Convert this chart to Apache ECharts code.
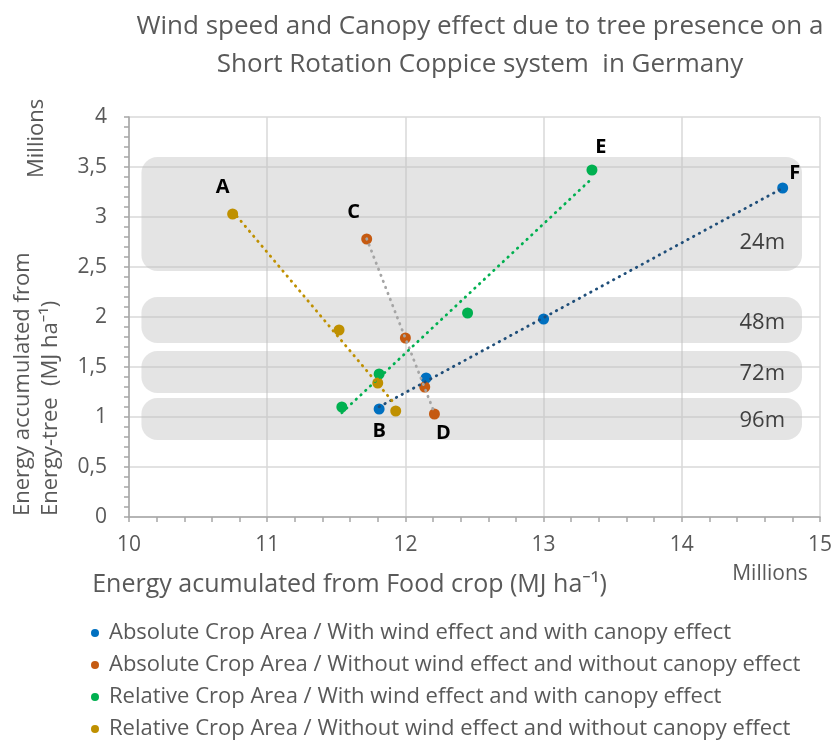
<!DOCTYPE html>
<html><head><meta charset="utf-8">
<script src="https://cdn.jsdelivr.net/npm/echarts@6/dist/echarts.min.js"></script>
<style>html,body{margin:0;padding:0;background:#fff}#c{width:835px;height:740px}</style>
</head><body><div id="c"></div>
<script>
// ---- data ----
const seriesNames = [
  'Absolute Crop Area / With wind effect and with canopy effect',
  'Absolute Crop Area / Without wind effect and without canopy effect',
  'Relative Crop Area / With wind effect and with canopy effect',
  'Relative Crop Area / Without wind effect and without canopy effect'
];
// x: energy from food crop (millions MJ/ha), y: energy from energy-tree (millions MJ/ha)
// order: 96m, 72m, 48m, 24m
const absWithX = [11.81, 12.15, 13.00, 14.73];
const absWithY = [1.08, 1.39, 1.98, 3.29];
const absWithoutX = [12.21, 12.14, 12.00, 11.72];
const absWithoutY = [1.03, 1.30, 1.79, 2.78];
const relWithX = [11.54, 11.81, 12.45, 13.35];
const relWithY = [1.10, 1.43, 2.04, 3.47];
const relWithoutX = [11.93, 11.80, 11.52, 10.75];
const relWithoutY = [1.06, 1.34, 1.87, 3.03];
// point letters (index into series, point index, letter)
const pointLabels = [
  {s: 0, i: 0, t: 'B'}, {s: 0, i: 3, t: 'F'},
  {s: 1, i: 0, t: 'D'}, {s: 1, i: 3, t: 'C'},
  {s: 2, i: 3, t: 'E'},
  {s: 3, i: 3, t: 'A'}
];
// spacing bands
const bandNames = ['24m', '48m', '72m', '96m'];
const bandTop = [3.60, 2.20, 1.66, 1.19];
const bandBottom = [2.46, 1.74, 1.24, 0.77];
const bandXStart = 10.09;
const bandXEnd = 14.87;
const xTicks = [10, 11, 12, 13, 14, 15];
const yTicks = [0, 0.5, 1, 1.5, 2, 2.5, 3, 3.5, 4];

const markerColors = ['#0070C0', '#C55A11', '#00B050', '#BF9000'];
const lineColors = ['#1F4E79', '#A5A5A5', '#00B050', '#BF9000'];
const labelOffsets = {B: [0, 22], F: [12, -15], D: [9, 19], C: [-13, -27], E: [9, -23], A: [-10, -27]};

const xs = [absWithX, absWithoutX, relWithX, relWithoutX];
const ys = [absWithY, absWithoutY, relWithY, relWithoutY];

function trend(x, y) {
  const n = x.length;
  const mx = x.reduce((a, b) => a + b, 0) / n;
  const my = y.reduce((a, b) => a + b, 0) / n;
  let sxy = 0, sxx = 0;
  for (let k = 0; k < n; k++) { sxy += (x[k] - mx) * (y[k] - my); sxx += (x[k] - mx) ** 2; }
  const b = sxy / sxx, a = my - b * mx;
  const x0 = Math.min(...x), x1 = Math.max(...x);
  return [[x0, a + b * x0], [x1, a + b * x1]];
}

const font = '"Open Sans", "Noto Sans", sans-serif';
const series = [];

series.push({
  type: 'custom',
  name: 'bands',
  z: 1,
  silent: true,
  clip: false,
  data: bandNames.map((n, k) => [bandXStart, bandTop[k], bandXEnd, bandBottom[k], n]),
  renderItem: function (params, api) {
    const p0 = api.coord([api.value(0), api.value(1)]);
    const p1 = api.coord([api.value(2), api.value(3)]);
    const h = p1[1] - p0[1];
    return {
      type: 'group',
      children: [
        {type: 'rect', shape: {x: p0[0], y: p0[1], width: p1[0] - p0[0], height: h, r: Math.min(16, h / 2.5)},
         style: {fill: 'rgba(190,190,190,0.42)'}},
        {type: 'text', x: p1[0] - 17, y: p0[1] + h * (bandNames[params.dataIndex] === '24m' ? 0.75 : 0.55),
         style: {text: bandNames[params.dataIndex], fill: '#404040', font: '22px ' + font, align: 'right', verticalAlign: 'middle'}}
      ]
    };
  }
});

for (let s = 0; s < 4; s++) {
  series.push({
    type: 'scatter',
    name: seriesNames[s],
    z: 3,
    symbolSize: 11,
    itemStyle: {color: markerColors[s], opacity: 1},
    data: xs[s].map((x, i) => {
      const pl = pointLabels.find(p => p.s === s && p.i === i);
      const item = {value: [x, ys[s][i]]};
      if (pl) {
        item.label = {show: true, formatter: pl.t, position: 'inside', offset: labelOffsets[pl.t],
          color: '#000', fontWeight: 'bold', fontSize: 20, fontFamily: font};
      }
      return item;
    })
  });
}
for (let s = 0; s < 4; s++) {
  series.push({
    type: 'line',
    name: 'trend' + s,
    z: 4,
    silent: true,
    symbol: 'none',
    lineStyle: {color: lineColors[s], width: 2.8, type: [0.5, 6], cap: 'round'},
    data: trend(xs[s], ys[s])
  });
}

const chart = echarts.init(document.getElementById('c'), null, {renderer: 'canvas'});
chart.setOption({
  backgroundColor: '#ffffff',
  animation: false,
  title: {
    text: 'Wind speed and Canopy effect due to tree presence on a\nShort Rotation Coppice system  in Germany',
    left: 475, top: 3, textAlign: 'center',
    textStyle: {color: '#595959', fontSize: 26, fontWeight: 'normal', fontFamily: font, lineHeight: 38}
  },
  grid: {left: 129, right: 15, top: 117, bottom: 223},
  legend: {
    data: seriesNames,
    orient: 'vertical', left: 91, top: 621, height: 130, padding: 0,
    icon: 'circle', itemWidth: 8, itemHeight: 8, itemGap: 8,
    textStyle: {color: '#595959', fontSize: 22, fontFamily: font, lineHeight: 24, padding: [0, 0, 0, 5]},
    selectedMode: false
  },
  xAxis: {
    type: 'value', min: 10, max: 15, interval: 1,
    name: 'Energy acumulated from Food crop (MJ ha⁻¹)',
    nameLocation: 'middle', nameGap: 55,
    nameTextStyle: {color: '#595959', fontSize: 25, fontFamily: font, padding: [0, 250, 0, 0]},
    axisLine: {show: true, lineStyle: {color: '#A6A6A6', width: 1.5}},
    axisTick: {show: true, length: 5, lineStyle: {color: '#A6A6A6', width: 1.5}},
    minorTick: {show: true, splitNumber: 5, length: 5, lineStyle: {color: '#A6A6A6', width: 1.5}},
    splitLine: {show: true, lineStyle: {color: '#D9D9D9', width: 1.5}},
    axisLabel: {color: '#595959', fontSize: 21, fontFamily: font, margin: 18,
      formatter: v => xTicks.includes(v) ? String(v) : ''}
  },
  yAxis: {
    type: 'value', min: 0, max: 4, interval: 0.5,
    axisLine: {show: true, lineStyle: {color: '#A6A6A6', width: 1.5}},
    axisTick: {show: true, length: 5, lineStyle: {color: '#A6A6A6', width: 1.5}},
    minorTick: {show: true, splitNumber: 5, length: 5, lineStyle: {color: '#A6A6A6', width: 1.5}},
    splitLine: {show: true, lineStyle: {color: '#D9D9D9', width: 1.5}},
    axisLabel: {color: '#595959', fontSize: 21, fontFamily: font, margin: 22,
      formatter: v => yTicks.includes(v) ? String(v).replace('.', ',') : ''}
  },
  graphic: [
    {type: 'text', x: 9, y: 516, rotation: Math.PI / 2,
     style: {text: 'Energy accumulated from\nEnergy-tree  (MJ ha⁻¹)', fill: '#595959', font: '22px ' + font, lineHeight: 28, align: 'left', verticalAlign: 'top'}},
    {type: 'text', x: 26, y: 178, rotation: Math.PI / 2,
     style: {text: 'Millions', fill: '#595959', font: '22px ' + font, align: 'left', verticalAlign: 'top'}},
    {type: 'text', x: 770, y: 574,
     style: {text: 'Millions', fill: '#595959', font: '21px ' + font, align: 'center', verticalAlign: 'middle'}}
  ],
  series: series
});
</script></body></html>
